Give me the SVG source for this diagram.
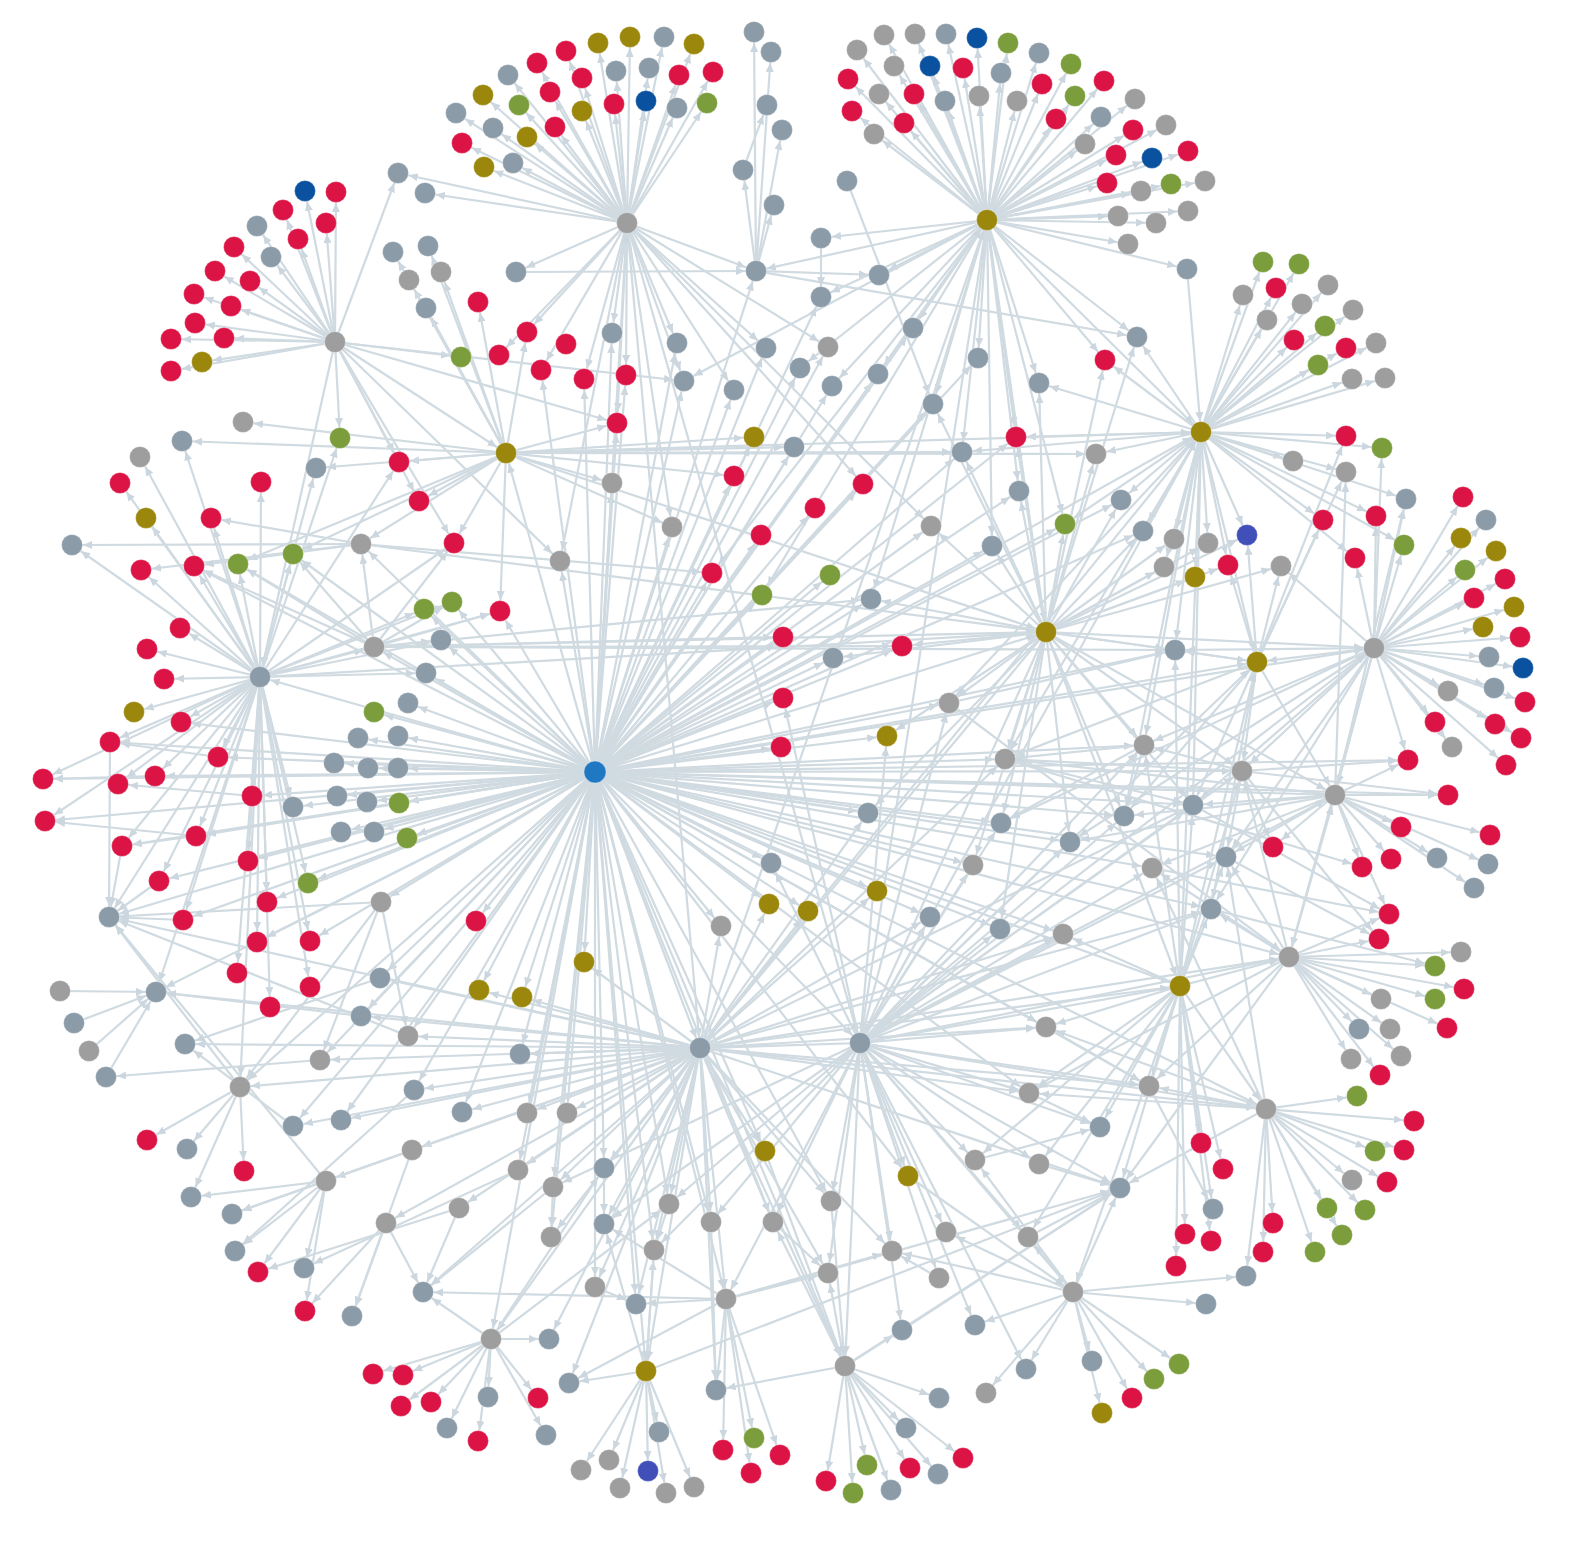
<svg xmlns="http://www.w3.org/2000/svg" width="1582" height="1544" viewBox="0 0 1582 1544">
<style>
.e path{stroke:#d0dae1;stroke-width:2.2;fill:none;marker-end:url(#a)}
.r{fill:#dc1446}.o{fill:#9b870c}.b{fill:#8b9ba8}.g{fill:#9e9e9e}.v{fill:#7b9d3b}.d{fill:#0a52a0}.p{fill:#4150b8}.c{fill:#1f78c1}
.n circle{stroke:#ffffff;stroke-opacity:0.35;stroke-width:1}
</style>
<defs>
<marker id="a" markerUnits="userSpaceOnUse" markerWidth="10" markerHeight="8" refX="20" refY="4" orient="auto"><path d="M0,0L9,4L0,8z" fill="#cbd6de"/></marker>
</defs>
<rect width="1582" height="1544" fill="#ffffff"/>
<g id="connectors" class="e">
<path d="M627 223L456 113"/><path d="M627 223L462 143"/><path d="M627 223L484 167"/><path d="M627 223L483 95"/><path d="M627 223L493 128"/><path d="M627 223L508 75"/><path d="M627 223L513 163"/><path d="M627 223L519 105"/><path d="M627 223L527 137"/><path d="M627 223L537 63"/><path d="M627 223L550 92"/><path d="M627 223L555 127"/><path d="M627 223L566 51"/><path d="M627 223L582 78"/><path d="M627 223L582 111"/><path d="M627 223L598 43"/><path d="M627 223L614 104"/><path d="M627 223L616 71"/><path d="M627 223L630 37"/><path d="M627 223L646 101"/><path d="M627 223L649 68"/><path d="M627 223L664 37"/><path d="M627 223L677 108"/><path d="M627 223L679 75"/><path d="M627 223L694 44"/><path d="M627 223L707 103"/><path d="M627 223L713 72"/><path d="M627 223L425 193"/><path d="M627 223L398 173"/><path d="M627 223L516 272"/><path d="M627 223L756 271"/><path d="M627 223L612 333"/><path d="M627 223L527 332"/><path d="M627 223L499 355"/><path d="M627 223L541 370"/><path d="M627 223L584 379"/><path d="M627 223L626 375"/><path d="M627 223L617 423"/><path d="M627 223L677 343"/><path d="M627 223L684 381"/><path d="M627 223L734 390"/><path d="M627 223L766 348"/><path d="M627 223L672 527"/><path d="M627 223L560 561"/><path d="M627 223L700 1048"/><path d="M627 223L860 1043"/><path d="M627 223L863 484"/><path d="M627 223L931 526"/><path d="M627 223L828 347"/>
<path d="M756 271L754 32"/><path d="M756 271L771 52"/><path d="M743 170L767 105"/><path d="M756 271L782 130"/><path d="M756 271L743 170"/><path d="M756 271L774 205"/><path d="M847 181L933 404"/><path d="M516 272L756 271"/><path d="M756 271L1137 337"/><path d="M821 238L821 297"/><path d="M756 271L879 275"/>
<path d="M987 220L857 50"/><path d="M987 220L884 35"/><path d="M987 220L915 34"/><path d="M987 220L946 34"/><path d="M987 220L977 38"/><path d="M987 220L1008 43"/><path d="M987 220L1039 53"/><path d="M987 220L1071 64"/><path d="M987 220L1104 81"/><path d="M987 220L1135 99"/><path d="M987 220L1166 125"/><path d="M987 220L1188 151"/><path d="M987 220L1205 181"/><path d="M987 220L1188 211"/><path d="M987 220L1156 223"/><path d="M987 220L1128 244"/><path d="M987 220L1118 216"/><path d="M987 220L1141 191"/><path d="M987 220L1171 184"/><path d="M987 220L1152 158"/><path d="M987 220L1116 155"/><path d="M987 220L1107 183"/><path d="M987 220L1133 130"/><path d="M987 220L1101 117"/><path d="M987 220L1085 144"/><path d="M987 220L1056 119"/><path d="M987 220L1075 96"/><path d="M987 220L1042 84"/><path d="M987 220L1017 101"/><path d="M987 220L1001 73"/><path d="M987 220L963 68"/><path d="M987 220L979 96"/><path d="M987 220L945 101"/><path d="M987 220L930 66"/><path d="M987 220L914 94"/><path d="M987 220L894 66"/><path d="M987 220L879 94"/><path d="M987 220L848 79"/><path d="M987 220L852 111"/><path d="M987 220L874 134"/><path d="M987 220L904 123"/><path d="M987 220L1187 269"/><path d="M987 220L1137 337"/><path d="M987 220L821 238"/><path d="M987 220L756 271"/><path d="M987 220L879 275"/><path d="M987 220L913 328"/><path d="M987 220L978 358"/><path d="M987 220L933 404"/><path d="M987 220L1016 437"/><path d="M987 220L962 452"/><path d="M987 220L1039 383"/><path d="M987 220L1046 632"/><path d="M987 220L992 546"/><path d="M987 220L1019 491"/><path d="M987 220L800 368"/><path d="M987 220L832 386"/><path d="M987 220L878 374"/><path d="M987 220L821 297"/><path d="M987 220L712 573"/><path d="M987 220L762 595"/><path d="M987 220L871 599"/><path d="M987 220L1201 432"/><path d="M987 220L860 1043"/><path d="M987 220L1065 524"/><path d="M987 220L684 381"/><path d="M987 220L1105 360"/>
<path d="M335 342L305 191"/><path d="M335 342L336 192"/><path d="M335 342L283 210"/><path d="M335 342L326 223"/><path d="M335 342L257 226"/><path d="M335 342L298 239"/><path d="M335 342L234 247"/><path d="M335 342L271 257"/><path d="M335 342L215 271"/><path d="M335 342L250 281"/><path d="M335 342L194 294"/><path d="M335 342L231 306"/><path d="M335 342L195 323"/><path d="M335 342L224 338"/><path d="M335 342L171 339"/><path d="M335 342L171 371"/><path d="M335 342L202 362"/><path d="M335 342L398 173"/><path d="M335 342L340 438"/><path d="M335 342L461 357"/><path d="M335 342L506 453"/><path d="M335 342L399 462"/><path d="M335 342L419 501"/><path d="M335 342L260 677"/><path d="M335 342L617 423"/><path d="M335 342L560 561"/><path d="M335 342L684 381"/><path d="M335 342L454 543"/>
<path d="M1201 432L1263 262"/><path d="M1201 432L1299 264"/><path d="M1201 432L1243 295"/><path d="M1201 432L1276 288"/><path d="M1201 432L1328 285"/><path d="M1201 432L1302 304"/><path d="M1201 432L1267 320"/><path d="M1201 432L1353 310"/><path d="M1201 432L1325 326"/><path d="M1201 432L1294 340"/><path d="M1201 432L1346 348"/><path d="M1201 432L1376 343"/><path d="M1201 432L1318 365"/><path d="M1201 432L1352 379"/><path d="M1201 432L1385 378"/><path d="M1201 432L1346 436"/><path d="M1201 432L1382 448"/><path d="M1201 432L1293 461"/><path d="M1201 432L1346 472"/><path d="M1201 432L1406 499"/><path d="M1201 432L1323 520"/><path d="M1201 432L1376 516"/><path d="M1201 432L1404 545"/><path d="M1201 432L1355 558"/><path d="M1201 432L1137 337"/><path d="M1201 432L1105 360"/><path d="M1201 432L1096 454"/><path d="M1201 432L1121 500"/><path d="M1201 432L1143 531"/><path d="M1201 432L1174 539"/><path d="M1201 432L1208 543"/><path d="M1201 432L1164 567"/><path d="M1201 432L1195 577"/><path d="M1201 432L1228 565"/><path d="M1201 432L1257 662"/><path d="M1201 432L1016 437"/><path d="M1201 432L1039 383"/><path d="M1201 432L962 452"/><path d="M1201 432L1180 986"/><path d="M1201 432L1193 805"/><path d="M1201 432L1124 816"/><path d="M1201 432L1175 650"/><path d="M1201 432L1144 745"/><path d="M1201 432L1065 524"/><path d="M1201 432L1247 535"/><path d="M1187 269L1201 432"/><path d="M1201 432L949 703"/><path d="M1201 432L1005 759"/>
<path d="M1374 648L1463 497"/><path d="M1374 648L1486 520"/><path d="M1374 648L1461 538"/><path d="M1374 648L1496 551"/><path d="M1374 648L1465 570"/><path d="M1374 648L1505 579"/><path d="M1374 648L1474 598"/><path d="M1374 648L1514 607"/><path d="M1374 648L1483 627"/><path d="M1374 648L1520 637"/><path d="M1374 648L1489 657"/><path d="M1374 648L1523 668"/><path d="M1374 648L1494 688"/><path d="M1374 648L1525 702"/><path d="M1374 648L1495 724"/><path d="M1374 648L1521 738"/><path d="M1374 648L1506 765"/><path d="M1374 648L1448 691"/><path d="M1374 648L1452 747"/><path d="M1374 648L1435 722"/><path d="M1374 648L1408 760"/><path d="M1374 648L1335 795"/><path d="M1374 648L1257 662"/><path d="M1374 648L1406 499"/><path d="M1374 648L1355 558"/><path d="M1374 648L1376 516"/><path d="M1374 648L1404 545"/><path d="M1374 648L1382 448"/><path d="M1374 648L1281 566"/><path d="M1374 648L1242 771"/><path d="M1374 648L1193 805"/><path d="M1374 648L1226 857"/><path d="M1374 648L1175 650"/><path d="M1374 648L1144 745"/><path d="M1374 648L1289 957"/><path d="M1374 648L1211 909"/><path d="M1374 648L1001 823"/><path d="M1374 648L1070 842"/>
<path d="M1257 662L1281 566"/><path d="M1257 662L1247 535"/><path d="M1257 662L1175 650"/><path d="M1257 662L1242 771"/><path d="M1257 662L1193 805"/><path d="M1257 662L1323 520"/><path d="M1257 662L1346 436"/><path d="M1257 662L1228 565"/><path d="M1257 662L1211 909"/><path d="M1257 662L1335 795"/><path d="M1257 662L1346 472"/><path d="M1257 662L1124 816"/><path d="M1257 662L1005 759"/>
<path d="M260 677L180 628"/><path d="M260 677L147 649"/><path d="M260 677L164 679"/><path d="M260 677L134 712"/><path d="M260 677L181 722"/><path d="M260 677L110 742"/><path d="M260 677L218 757"/><path d="M260 677L155 776"/><path d="M260 677L118 784"/><path d="M260 677L196 836"/><path d="M260 677L252 796"/><path d="M260 677L248 861"/><path d="M260 677L122 846"/><path d="M260 677L159 881"/><path d="M260 677L183 920"/><path d="M260 677L238 564"/><path d="M260 677L194 566"/><path d="M260 677L141 570"/><path d="M260 677L72 545"/><path d="M260 677L211 518"/><path d="M260 677L261 482"/><path d="M260 677L293 554"/><path d="M260 677L146 518"/><path d="M260 677L120 483"/><path d="M260 677L109 917"/><path d="M260 677L267 902"/><path d="M260 677L257 942"/><path d="M260 677L237 973"/><path d="M260 677L182 441"/><path d="M260 677L140 457"/><path d="M260 677L43 779"/><path d="M260 677L45 821"/><path d="M260 677L316 468"/><path d="M260 677L340 438"/><path d="M260 677L374 647"/><path d="M260 677L426 673"/><path d="M260 677L441 640"/><path d="M260 677L500 611"/><path d="M260 677L424 609"/><path d="M260 677L452 602"/><path d="M260 677L1046 632"/><path d="M260 677L240 1087"/><path d="M260 677L156 992"/><path d="M260 677L310 941"/><path d="M260 677L308 883"/><path d="M260 677L293 807"/><path d="M260 677L399 462"/><path d="M260 677L454 543"/><path d="M260 677L310 987"/><path d="M260 677L270 1007"/>
<path d="M110 742L109 917"/><path d="M122 846L109 917"/><path d="M159 881L109 917"/><path d="M183 920L109 917"/><path d="M381 902L109 917"/><path d="M60 991L156 992"/><path d="M74 1023L156 992"/><path d="M89 1051L156 992"/><path d="M106 1077L156 992"/><path d="M155 776L43 779"/><path d="M196 836L45 821"/><path d="M196 836L122 846"/><path d="M252 796L118 784"/><path d="M218 757L110 742"/>
<path d="M374 647L1046 632"/><path d="M374 647L902 646"/><path d="M374 647L783 637"/><path d="M374 647L452 602"/><path d="M374 647L500 611"/><path d="M374 647L238 564"/><path d="M374 647L194 566"/><path d="M374 647L293 554"/><path d="M374 647L361 544"/><path d="M374 647L454 543"/><path d="M374 647L441 640"/><path d="M374 647L1175 650"/><path d="M374 647L871 599"/>
<path d="M506 453L399 462"/><path d="M506 453L419 501"/><path d="M506 453L454 543"/><path d="M506 453L316 468"/><path d="M506 453L361 544"/><path d="M506 453L243 422"/><path d="M506 453L182 441"/><path d="M506 453L612 483"/><path d="M506 453L672 527"/><path d="M506 453L754 437"/><path d="M506 453L1096 454"/><path d="M506 453L962 452"/><path d="M506 453L794 447"/><path d="M506 453L734 476"/><path d="M506 453L293 554"/><path d="M506 453L238 564"/><path d="M506 453L500 611"/><path d="M506 453L617 423"/><path d="M506 453L527 332"/><path d="M506 453L478 302"/><path d="M506 453L409 280"/><path d="M506 453L441 272"/><path d="M506 453L426 308"/><path d="M506 453L393 252"/><path d="M506 453L428 246"/><path d="M506 453L1201 432"/><path d="M506 453L1046 632"/>
<path d="M361 544L141 570"/><path d="M361 544L194 566"/><path d="M361 544L72 545"/><path d="M361 544L211 518"/><path d="M361 544L1046 632"/><path d="M361 544L712 573"/>
<path d="M595 772L781 747"/><path d="M595 772L783 698"/><path d="M595 772L783 637"/><path d="M595 772L712 573"/><path d="M595 772L761 535"/><path d="M595 772L734 476"/><path d="M595 772L672 527"/><path d="M595 772L612 483"/><path d="M595 772L560 561"/><path d="M595 772L500 611"/><path d="M595 772L452 602"/><path d="M595 772L424 609"/><path d="M595 772L441 640"/><path d="M595 772L426 673"/><path d="M595 772L408 703"/><path d="M595 772L374 712"/><path d="M595 772L398 736"/><path d="M595 772L358 738"/><path d="M595 772L334 763"/><path d="M595 772L368 768"/><path d="M595 772L398 768"/><path d="M595 772L337 796"/><path d="M595 772L367 802"/><path d="M595 772L399 803"/><path d="M595 772L341 832"/><path d="M595 772L374 832"/><path d="M595 772L407 838"/><path d="M595 772L293 807"/><path d="M595 772L381 902"/><path d="M595 772L476 921"/><path d="M595 772L308 883"/><path d="M595 772L267 902"/><path d="M595 772L218 757"/><path d="M595 772L155 776"/><path d="M595 772L43 779"/><path d="M595 772L45 821"/><path d="M595 772L122 846"/><path d="M595 772L196 836"/><path d="M595 772L252 796"/><path d="M595 772L248 861"/><path d="M595 772L181 722"/><path d="M595 772L110 742"/><path d="M595 772L887 736"/><path d="M595 772L949 703"/><path d="M595 772L1005 759"/><path d="M595 772L868 813"/><path d="M595 772L771 863"/><path d="M595 772L769 904"/><path d="M595 772L808 911"/><path d="M595 772L877 891"/><path d="M595 772L721 926"/><path d="M595 772L584 962"/><path d="M595 772L479 990"/><path d="M595 772L522 997"/><path d="M595 772L520 1054"/><path d="M595 772L700 1048"/><path d="M595 772L860 1043"/><path d="M595 772L1046 632"/><path d="M595 772L902 646"/><path d="M595 772L833 658"/><path d="M595 772L871 599"/><path d="M595 772L830 575"/><path d="M595 772L762 595"/><path d="M595 772L1144 745"/><path d="M595 772L1242 771"/><path d="M595 772L1335 795"/><path d="M595 772L1193 805"/><path d="M595 772L1124 816"/><path d="M595 772L1001 823"/><path d="M595 772L973 865"/><path d="M595 772L930 917"/><path d="M595 772L1000 929"/><path d="M595 772L1063 934"/><path d="M595 772L1070 842"/><path d="M595 772L408 1036"/><path d="M595 772L361 1016"/><path d="M595 772L380 978"/><path d="M595 772L617 423"/><path d="M595 772L626 375"/><path d="M595 772L584 379"/><path d="M595 772L541 370"/><path d="M595 772L612 333"/><path d="M595 772L677 343"/><path d="M595 772L684 381"/><path d="M595 772L734 390"/><path d="M595 772L766 348"/><path d="M595 772L756 271"/><path d="M595 772L821 297"/><path d="M595 772L828 347"/><path d="M595 772L800 368"/><path d="M595 772L832 386"/><path d="M595 772L878 374"/><path d="M595 772L913 328"/><path d="M595 772L933 404"/><path d="M595 772L978 358"/><path d="M595 772L962 452"/><path d="M595 772L1016 437"/><path d="M595 772L794 447"/><path d="M595 772L754 437"/><path d="M595 772L863 484"/><path d="M595 772L815 508"/><path d="M595 772L931 526"/><path d="M595 772L992 546"/><path d="M595 772L1019 491"/><path d="M595 772L1065 524"/><path d="M595 772L1121 500"/><path d="M595 772L1143 531"/><path d="M595 772L1175 650"/><path d="M595 772L1257 662"/><path d="M595 772L1374 648"/><path d="M595 772L1201 432"/><path d="M595 772L987 220"/><path d="M595 772L627 223"/><path d="M595 772L506 453"/><path d="M595 772L260 677"/><path d="M595 772L374 647"/><path d="M595 772L361 544"/><path d="M595 772L293 554"/><path d="M595 772L238 564"/><path d="M595 772L194 566"/><path d="M595 772L1211 909"/><path d="M595 772L1152 868"/><path d="M595 772L1226 857"/><path d="M595 772L1180 986"/><path d="M595 772L1289 957"/><path d="M595 772L1266 1109"/><path d="M595 772L1149 1086"/><path d="M595 772L1046 1027"/><path d="M595 772L1029 1093"/><path d="M595 772L567 1113"/><path d="M595 772L527 1113"/><path d="M595 772L604 1168"/><path d="M595 772L669 1204"/><path d="M595 772L711 1222"/><path d="M595 772L654 1250"/><path d="M595 772L595 1287"/><path d="M595 772L636 1304"/><path d="M595 772L551 1237"/><path d="M595 772L553 1187"/><path d="M595 772L518 1170"/><path d="M595 772L462 1112"/><path d="M595 772L414 1090"/><path d="M595 772L341 1120"/><path d="M595 772L293 1126"/><path d="M595 772L320 1060"/><path d="M595 772L240 1087"/><path d="M595 772L109 917"/><path d="M595 772L156 992"/><path d="M595 772L726 1299"/><path d="M595 772L845 1366"/><path d="M595 772L646 1371"/><path d="M595 772L491 1339"/><path d="M595 772L765 1151"/><path d="M595 772L831 1201"/><path d="M595 772L773 1222"/><path d="M595 772L908 1176"/><path d="M595 772L183 920"/><path d="M595 772L159 881"/><path d="M595 772L257 942"/><path d="M595 772L310 941"/><path d="M595 772L1448 795"/><path d="M595 772L1408 760"/>
<path d="M1046 632L1175 650"/><path d="M1046 632L1257 662"/><path d="M1046 632L1374 648"/><path d="M1046 632L1144 745"/><path d="M1046 632L1242 771"/><path d="M1046 632L1005 759"/><path d="M1046 632L949 703"/><path d="M1046 632L1019 491"/><path d="M1046 632L1065 524"/><path d="M1046 632L1121 500"/><path d="M1046 632L992 546"/><path d="M1046 632L931 526"/><path d="M1046 632L871 599"/><path d="M1046 632L902 646"/><path d="M1046 632L833 658"/><path d="M1046 632L1208 543"/><path d="M1046 632L1164 567"/><path d="M1046 632L1195 577"/><path d="M1046 632L1228 565"/><path d="M1046 632L1143 531"/><path d="M1046 632L1174 539"/><path d="M1046 632L1096 454"/><path d="M1046 632L1039 383"/><path d="M1046 632L962 452"/><path d="M1046 632L1016 437"/><path d="M1046 632L700 1048"/><path d="M1046 632L860 1043"/><path d="M1046 632L1180 986"/><path d="M1046 632L1335 795"/><path d="M1046 632L1193 805"/><path d="M1046 632L1124 816"/><path d="M1046 632L1070 842"/><path d="M1046 632L1001 823"/><path d="M1046 632L973 865"/><path d="M1046 632L868 813"/><path d="M1046 632L887 736"/><path d="M1046 632L1000 929"/><path d="M1046 632L1281 566"/><path d="M1046 632L1247 535"/><path d="M1046 632L1137 337"/><path d="M1046 632L1105 360"/><path d="M1046 632L933 404"/>
<path d="M700 1048L520 1054"/><path d="M700 1048L527 1113"/><path d="M700 1048L567 1113"/><path d="M700 1048L604 1168"/><path d="M700 1048L518 1170"/><path d="M700 1048L553 1187"/><path d="M700 1048L551 1237"/><path d="M700 1048L604 1224"/><path d="M700 1048L595 1287"/><path d="M700 1048L636 1304"/><path d="M700 1048L669 1204"/><path d="M700 1048L654 1250"/><path d="M700 1048L711 1222"/><path d="M700 1048L726 1299"/><path d="M700 1048L765 1151"/><path d="M700 1048L773 1222"/><path d="M700 1048L831 1201"/><path d="M700 1048L828 1273"/><path d="M700 1048L892 1251"/><path d="M700 1048L462 1112"/><path d="M700 1048L414 1090"/><path d="M700 1048L408 1036"/><path d="M700 1048L320 1060"/><path d="M700 1048L240 1087"/><path d="M700 1048L380 978"/><path d="M700 1048L361 1016"/><path d="M700 1048L156 992"/><path d="M700 1048L109 917"/><path d="M700 1048L423 1292"/><path d="M700 1048L646 1371"/><path d="M700 1048L491 1339"/><path d="M700 1048L845 1366"/><path d="M700 1048L1120 1188"/><path d="M700 1048L1149 1086"/><path d="M700 1048L1046 1027"/><path d="M700 1048L1180 986"/><path d="M700 1048L1289 957"/><path d="M700 1048L1211 909"/><path d="M700 1048L1063 934"/><path d="M700 1048L1005 759"/><path d="M700 1048L1193 805"/><path d="M700 1048L1201 432"/><path d="M700 1048L987 220"/><path d="M700 1048L584 962"/><path d="M700 1048L522 997"/><path d="M700 1048L479 990"/><path d="M700 1048L721 926"/><path d="M700 1048L769 904"/><path d="M700 1048L808 911"/><path d="M700 1048L877 891"/><path d="M700 1048L868 813"/><path d="M700 1048L930 917"/><path d="M700 1048L341 1120"/><path d="M700 1048L293 1126"/><path d="M700 1048L412 1150"/><path d="M700 1048L326 1181"/><path d="M700 1048L386 1223"/><path d="M700 1048L459 1208"/><path d="M700 1048L569 1383"/><path d="M700 1048L549 1339"/><path d="M700 1048L716 1390"/><path d="M700 1048L185 1044"/><path d="M700 1048L1266 1109"/><path d="M700 1048L1029 1093"/>
<path d="M860 1043L975 1160"/><path d="M860 1043L1039 1164"/><path d="M860 1043L1029 1093"/><path d="M860 1043L1046 1027"/><path d="M860 1043L1120 1188"/><path d="M860 1043L1100 1127"/><path d="M860 1043L1149 1086"/><path d="M860 1043L946 1232"/><path d="M860 1043L939 1278"/><path d="M860 1043L892 1251"/><path d="M860 1043L908 1176"/><path d="M860 1043L828 1273"/><path d="M860 1043L831 1201"/><path d="M860 1043L773 1222"/><path d="M860 1043L1028 1237"/><path d="M860 1043L1073 1292"/><path d="M860 1043L902 1330"/><path d="M860 1043L975 1325"/><path d="M860 1043L845 1366"/><path d="M860 1043L711 1222"/><path d="M860 1043L669 1204"/><path d="M860 1043L1180 986"/><path d="M860 1043L1289 957"/><path d="M860 1043L1211 909"/><path d="M860 1043L1063 934"/><path d="M860 1043L1000 929"/><path d="M860 1043L930 917"/><path d="M860 1043L973 865"/><path d="M860 1043L1001 823"/><path d="M860 1043L1070 842"/><path d="M860 1043L1152 868"/><path d="M860 1043L1124 816"/><path d="M860 1043L1193 805"/><path d="M860 1043L1242 771"/><path d="M860 1043L1226 857"/><path d="M860 1043L1266 1109"/><path d="M860 1043L1335 795"/><path d="M860 1043L1374 648"/><path d="M860 1043L1201 432"/><path d="M860 1043L1026 1369"/><path d="M860 1043L726 1299"/><path d="M860 1043L654 1250"/><path d="M860 1043L604 1224"/><path d="M860 1043L1257 662"/><path d="M860 1043L1144 745"/><path d="M860 1043L949 703"/><path d="M860 1043L887 736"/><path d="M860 1043L783 698"/><path d="M860 1043L771 863"/><path d="M860 1043L553 1187"/><path d="M860 1043L520 1054"/>
<path d="M1180 986L1149 1086"/><path d="M1180 986L1201 1143"/><path d="M1180 986L1223 1169"/><path d="M1180 986L1213 1209"/><path d="M1180 986L1185 1234"/><path d="M1180 986L1211 1241"/><path d="M1180 986L1176 1266"/><path d="M1180 986L1120 1188"/><path d="M1180 986L1100 1127"/><path d="M1180 986L1046 1027"/><path d="M1180 986L1029 1093"/><path d="M1180 986L1266 1109"/><path d="M1180 986L1289 957"/><path d="M1180 986L1211 909"/><path d="M1180 986L1226 857"/><path d="M1180 986L1063 934"/><path d="M1180 986L1144 745"/><path d="M1180 986L1175 650"/><path d="M1180 986L1193 805"/><path d="M1180 986L1242 771"/><path d="M1180 986L1257 662"/><path d="M1180 986L1073 1292"/><path d="M1180 986L975 1160"/><path d="M1180 986L1039 1164"/><path d="M1180 986L1028 1237"/>
<path d="M1289 957L1435 966"/><path d="M1289 957L1461 952"/><path d="M1289 957L1435 999"/><path d="M1289 957L1464 989"/><path d="M1289 957L1381 999"/><path d="M1289 957L1390 1029"/><path d="M1289 957L1359 1029"/><path d="M1289 957L1447 1028"/><path d="M1289 957L1389 914"/><path d="M1289 957L1379 939"/><path d="M1289 957L1401 1056"/><path d="M1289 957L1351 1059"/><path d="M1289 957L1380 1075"/><path d="M1289 957L1211 909"/><path d="M1289 957L1226 857"/><path d="M1289 957L1152 868"/><path d="M1289 957L1242 771"/><path d="M1289 957L1335 795"/><path d="M1289 957L1029 1093"/><path d="M1289 957L1149 1086"/><path d="M1289 957L1120 1188"/>
<path d="M1266 1109L1315 1252"/><path d="M1266 1109L1342 1235"/><path d="M1266 1109L1327 1208"/><path d="M1266 1109L1365 1210"/><path d="M1266 1109L1352 1180"/><path d="M1266 1109L1387 1182"/><path d="M1266 1109L1375 1151"/><path d="M1266 1109L1404 1150"/><path d="M1266 1109L1414 1121"/><path d="M1266 1109L1357 1096"/><path d="M1266 1109L1263 1252"/><path d="M1266 1109L1273 1223"/><path d="M1266 1109L1246 1276"/><path d="M1266 1109L1149 1086"/><path d="M1266 1109L1029 1093"/><path d="M1266 1109L1120 1188"/><path d="M1266 1109L1226 857"/><path d="M1266 1109L1152 868"/><path d="M1266 1109L1046 1027"/>
<path d="M1335 795L1401 827"/><path d="M1335 795L1391 859"/><path d="M1335 795L1362 867"/><path d="M1335 795L1437 858"/><path d="M1335 795L1488 864"/><path d="M1335 795L1474 888"/><path d="M1335 795L1490 835"/><path d="M1335 795L1448 795"/><path d="M1335 795L1408 760"/><path d="M1335 795L1273 847"/><path d="M1335 795L1389 914"/><path d="M1335 795L1226 857"/><path d="M1335 795L1193 805"/><path d="M1335 795L1152 868"/><path d="M1335 795L1124 816"/><path d="M1335 795L1406 499"/><path d="M1335 795L1346 472"/><path d="M1335 795L1005 759"/><path d="M1335 795L1070 842"/>
<path d="M1242 771L1408 760"/><path d="M1242 771L1448 795"/><path d="M1242 771L1273 847"/><path d="M1242 771L1226 857"/><path d="M1242 771L1144 745"/><path d="M1242 771L1379 939"/><path d="M1242 771L1005 759"/><path d="M1144 745L1005 759"/><path d="M1144 745L1001 823"/><path d="M1144 745L1124 816"/><path d="M1005 759L1193 805"/><path d="M1005 759L1362 867"/><path d="M949 703L1175 650"/><path d="M949 703L1289 957"/><path d="M1193 805L1389 914"/><path d="M1152 868L1389 914"/><path d="M1226 857L1379 939"/><path d="M1211 909L1435 966"/>
<path d="M1073 1292L1092 1361"/><path d="M1073 1292L1102 1413"/><path d="M1073 1292L1132 1398"/><path d="M1073 1292L1154 1379"/><path d="M1073 1292L1179 1364"/><path d="M1073 1292L1026 1369"/><path d="M1073 1292L986 1393"/><path d="M1073 1292L1028 1237"/><path d="M1073 1292L1120 1188"/><path d="M1073 1292L975 1325"/><path d="M1073 1292L892 1251"/><path d="M1073 1292L1206 1304"/><path d="M1073 1292L1246 1276"/><path d="M1073 1292L946 1232"/><path d="M1073 1292L975 1160"/>
<path d="M845 1366L826 1481"/><path d="M845 1366L853 1493"/><path d="M845 1366L867 1465"/><path d="M845 1366L891 1490"/><path d="M845 1366L910 1468"/><path d="M845 1366L938 1474"/><path d="M845 1366L963 1458"/><path d="M845 1366L906 1428"/><path d="M845 1366L939 1398"/><path d="M845 1366L902 1330"/><path d="M845 1366L1120 1188"/><path d="M845 1366L716 1390"/><path d="M845 1366L828 1273"/><path d="M845 1366L773 1222"/>
<path d="M726 1299L716 1390"/><path d="M726 1299L723 1450"/><path d="M726 1299L751 1473"/><path d="M726 1299L754 1438"/><path d="M726 1299L780 1455"/><path d="M726 1299L636 1304"/><path d="M726 1299L569 1383"/><path d="M726 1299L1120 1188"/><path d="M726 1299L828 1273"/><path d="M726 1299L892 1251"/><path d="M726 1299L604 1224"/><path d="M726 1299L423 1292"/>
<path d="M646 1371L581 1470"/><path d="M646 1371L609 1460"/><path d="M646 1371L620 1488"/><path d="M646 1371L648 1471"/><path d="M646 1371L659 1432"/><path d="M646 1371L666 1493"/><path d="M646 1371L694 1487"/><path d="M646 1371L569 1383"/><path d="M646 1371L1120 1188"/><path d="M646 1371L654 1250"/><path d="M646 1371L604 1224"/>
<path d="M491 1339L373 1374"/><path d="M491 1339L403 1375"/><path d="M491 1339L401 1406"/><path d="M491 1339L431 1402"/><path d="M491 1339L447 1428"/><path d="M491 1339L478 1441"/><path d="M491 1339L488 1397"/><path d="M491 1339L538 1398"/><path d="M491 1339L549 1339"/><path d="M491 1339L546 1435"/><path d="M491 1339L423 1292"/><path d="M491 1339L669 1204"/><path d="M491 1339L604 1168"/>
<path d="M326 1181L304 1268"/><path d="M326 1181L258 1272"/><path d="M326 1181L235 1251"/><path d="M326 1181L232 1214"/><path d="M326 1181L191 1197"/><path d="M326 1181L305 1311"/><path d="M326 1181L109 917"/>
<path d="M240 1087L147 1140"/><path d="M240 1087L187 1149"/><path d="M240 1087L244 1171"/><path d="M240 1087L191 1197"/><path d="M240 1087L109 917"/>
<path d="M386 1223L352 1316"/><path d="M386 1223L305 1311"/><path d="M386 1223L423 1292"/><path d="M412 1150L352 1316"/><path d="M412 1150L232 1214"/><path d="M459 1208L423 1292"/><path d="M459 1208L258 1272"/><path d="M553 1187L423 1292"/><path d="M518 1170L304 1268"/><path d="M414 1090L235 1251"/><path d="M381 902L240 1087"/><path d="M381 902L320 1060"/><path d="M381 902L408 1036"/><path d="M380 978L185 1044"/><path d="M361 1016L156 992"/><path d="M320 1060L106 1077"/><path d="M293 1126L185 1044"/><path d="M408 1036L109 917"/><path d="M604 1168L604 1224"/><path d="M553 1187L551 1237"/><path d="M595 1287L636 1304"/><path d="M669 1204L654 1250"/><path d="M773 1222L828 1273"/><path d="M939 1278L892 1251"/><path d="M1028 1237L1120 1188"/><path d="M902 1330L1120 1188"/><path d="M975 1160L1100 1127"/><path d="M1039 1164L1120 1188"/><path d="M1029 1093L1100 1127"/><path d="M1149 1086L1213 1209"/><path d="M1046 1027L1149 1086"/><path d="M908 1176L1073 1292"/><path d="M765 1151L845 1366"/><path d="M831 1201L845 1366"/><path d="M711 1222L716 1390"/><path d="M654 1250L646 1371"/>
</g>
<g id="nodes" class="n">
<g id="n0" class="c"><circle cx="595" cy="772" r="11"/></g>
<g id="n1" class="b"><circle cx="456" cy="113" r="10.5"/></g>
<g id="n2" class="r"><circle cx="462" cy="143" r="10.5"/></g>
<g id="n3" class="o"><circle cx="484" cy="167" r="10.5"/></g>
<g id="n4" class="o"><circle cx="483" cy="95" r="10.5"/></g>
<g id="n5" class="b"><circle cx="493" cy="128" r="10.5"/></g>
<g id="n6" class="b"><circle cx="508" cy="75" r="10.5"/></g>
<g id="n7" class="b"><circle cx="513" cy="163" r="10.5"/></g>
<g id="n8" class="v"><circle cx="519" cy="105" r="10.5"/></g>
<g id="n9" class="o"><circle cx="527" cy="137" r="10.5"/></g>
<g id="n10" class="r"><circle cx="537" cy="63" r="10.5"/></g>
<g id="n11" class="r"><circle cx="550" cy="92" r="10.5"/></g>
<g id="n12" class="r"><circle cx="555" cy="127" r="10.5"/></g>
<g id="n13" class="r"><circle cx="566" cy="51" r="10.5"/></g>
<g id="n14" class="r"><circle cx="582" cy="78" r="10.5"/></g>
<g id="n15" class="o"><circle cx="582" cy="111" r="10.5"/></g>
<g id="n16" class="o"><circle cx="598" cy="43" r="10.5"/></g>
<g id="n17" class="r"><circle cx="614" cy="104" r="10.5"/></g>
<g id="n18" class="b"><circle cx="616" cy="71" r="10.5"/></g>
<g id="n19" class="o"><circle cx="630" cy="37" r="10.5"/></g>
<g id="n20" class="d"><circle cx="646" cy="101" r="10.5"/></g>
<g id="n21" class="b"><circle cx="649" cy="68" r="10.5"/></g>
<g id="n22" class="b"><circle cx="664" cy="37" r="10.5"/></g>
<g id="n23" class="b"><circle cx="677" cy="108" r="10.5"/></g>
<g id="n24" class="r"><circle cx="679" cy="75" r="10.5"/></g>
<g id="n25" class="o"><circle cx="694" cy="44" r="10.5"/></g>
<g id="n26" class="v"><circle cx="707" cy="103" r="10.5"/></g>
<g id="n27" class="r"><circle cx="713" cy="72" r="10.5"/></g>
<g id="n28" class="g"><circle cx="627" cy="223" r="10.5"/></g>
<g id="n29" class="b"><circle cx="754" cy="32" r="10.5"/></g>
<g id="n30" class="b"><circle cx="771" cy="52" r="10.5"/></g>
<g id="n31" class="b"><circle cx="767" cy="105" r="10.5"/></g>
<g id="n32" class="b"><circle cx="782" cy="130" r="10.5"/></g>
<g id="n33" class="b"><circle cx="743" cy="170" r="10.5"/></g>
<g id="n34" class="b"><circle cx="774" cy="205" r="10.5"/></g>
<g id="n35" class="b"><circle cx="847" cy="181" r="10.5"/></g>
<g id="n36" class="g"><circle cx="857" cy="50" r="10.5"/></g>
<g id="n37" class="g"><circle cx="884" cy="35" r="10.5"/></g>
<g id="n38" class="g"><circle cx="915" cy="34" r="10.5"/></g>
<g id="n39" class="b"><circle cx="946" cy="34" r="10.5"/></g>
<g id="n40" class="d"><circle cx="977" cy="38" r="10.5"/></g>
<g id="n41" class="v"><circle cx="1008" cy="43" r="10.5"/></g>
<g id="n42" class="b"><circle cx="1039" cy="53" r="10.5"/></g>
<g id="n43" class="v"><circle cx="1071" cy="64" r="10.5"/></g>
<g id="n44" class="r"><circle cx="1104" cy="81" r="10.5"/></g>
<g id="n45" class="g"><circle cx="1135" cy="99" r="10.5"/></g>
<g id="n46" class="g"><circle cx="1166" cy="125" r="10.5"/></g>
<g id="n47" class="r"><circle cx="1188" cy="151" r="10.5"/></g>
<g id="n48" class="g"><circle cx="1205" cy="181" r="10.5"/></g>
<g id="n49" class="g"><circle cx="1188" cy="211" r="10.5"/></g>
<g id="n50" class="g"><circle cx="1156" cy="223" r="10.5"/></g>
<g id="n51" class="g"><circle cx="1128" cy="244" r="10.5"/></g>
<g id="n52" class="g"><circle cx="1118" cy="216" r="10.5"/></g>
<g id="n53" class="g"><circle cx="1141" cy="191" r="10.5"/></g>
<g id="n54" class="v"><circle cx="1171" cy="184" r="10.5"/></g>
<g id="n55" class="d"><circle cx="1152" cy="158" r="10.5"/></g>
<g id="n56" class="r"><circle cx="1116" cy="155" r="10.5"/></g>
<g id="n57" class="r"><circle cx="1107" cy="183" r="10.5"/></g>
<g id="n58" class="r"><circle cx="1133" cy="130" r="10.5"/></g>
<g id="n59" class="b"><circle cx="1101" cy="117" r="10.5"/></g>
<g id="n60" class="g"><circle cx="1085" cy="144" r="10.5"/></g>
<g id="n61" class="r"><circle cx="1056" cy="119" r="10.5"/></g>
<g id="n62" class="v"><circle cx="1075" cy="96" r="10.5"/></g>
<g id="n63" class="r"><circle cx="1042" cy="84" r="10.5"/></g>
<g id="n64" class="g"><circle cx="1017" cy="101" r="10.5"/></g>
<g id="n65" class="b"><circle cx="1001" cy="73" r="10.5"/></g>
<g id="n66" class="r"><circle cx="963" cy="68" r="10.5"/></g>
<g id="n67" class="g"><circle cx="979" cy="96" r="10.5"/></g>
<g id="n68" class="b"><circle cx="945" cy="101" r="10.5"/></g>
<g id="n69" class="d"><circle cx="930" cy="66" r="10.5"/></g>
<g id="n70" class="r"><circle cx="914" cy="94" r="10.5"/></g>
<g id="n71" class="g"><circle cx="894" cy="66" r="10.5"/></g>
<g id="n72" class="g"><circle cx="879" cy="94" r="10.5"/></g>
<g id="n73" class="r"><circle cx="848" cy="79" r="10.5"/></g>
<g id="n74" class="r"><circle cx="852" cy="111" r="10.5"/></g>
<g id="n75" class="g"><circle cx="874" cy="134" r="10.5"/></g>
<g id="n76" class="r"><circle cx="904" cy="123" r="10.5"/></g>
<g id="n77" class="o"><circle cx="987" cy="220" r="10.5"/></g>
<g id="n78" class="b"><circle cx="1187" cy="269" r="10.5"/></g>
<g id="n79" class="d"><circle cx="305" cy="191" r="10.5"/></g>
<g id="n80" class="r"><circle cx="336" cy="192" r="10.5"/></g>
<g id="n81" class="r"><circle cx="283" cy="210" r="10.5"/></g>
<g id="n82" class="r"><circle cx="326" cy="223" r="10.5"/></g>
<g id="n83" class="b"><circle cx="257" cy="226" r="10.5"/></g>
<g id="n84" class="r"><circle cx="298" cy="239" r="10.5"/></g>
<g id="n85" class="r"><circle cx="234" cy="247" r="10.5"/></g>
<g id="n86" class="b"><circle cx="271" cy="257" r="10.5"/></g>
<g id="n87" class="r"><circle cx="215" cy="271" r="10.5"/></g>
<g id="n88" class="r"><circle cx="250" cy="281" r="10.5"/></g>
<g id="n89" class="r"><circle cx="194" cy="294" r="10.5"/></g>
<g id="n90" class="r"><circle cx="231" cy="306" r="10.5"/></g>
<g id="n91" class="r"><circle cx="195" cy="323" r="10.5"/></g>
<g id="n92" class="r"><circle cx="224" cy="338" r="10.5"/></g>
<g id="n93" class="r"><circle cx="171" cy="339" r="10.5"/></g>
<g id="n94" class="r"><circle cx="171" cy="371" r="10.5"/></g>
<g id="n95" class="o"><circle cx="202" cy="362" r="10.5"/></g>
<g id="n96" class="g"><circle cx="335" cy="342" r="10.5"/></g>
<g id="n97" class="b"><circle cx="398" cy="173" r="10.5"/></g>
<g id="n98" class="b"><circle cx="425" cy="193" r="10.5"/></g>
<g id="n99" class="b"><circle cx="393" cy="252" r="10.5"/></g>
<g id="n100" class="b"><circle cx="428" cy="246" r="10.5"/></g>
<g id="n101" class="g"><circle cx="409" cy="280" r="10.5"/></g>
<g id="n102" class="g"><circle cx="441" cy="272" r="10.5"/></g>
<g id="n103" class="b"><circle cx="426" cy="308" r="10.5"/></g>
<g id="n104" class="v"><circle cx="461" cy="357" r="10.5"/></g>
<g id="n105" class="v"><circle cx="340" cy="438" r="10.5"/></g>
<g id="n106" class="r"><circle cx="478" cy="302" r="10.5"/></g>
<g id="n107" class="b"><circle cx="516" cy="272" r="10.5"/></g>
<g id="n108" class="r"><circle cx="527" cy="332" r="10.5"/></g>
<g id="n109" class="r"><circle cx="499" cy="355" r="10.5"/></g>
<g id="n110" class="r"><circle cx="541" cy="370" r="10.5"/></g>
<g id="n111" class="r"><circle cx="566" cy="344" r="10.5"/></g>
<g id="n112" class="r"><circle cx="584" cy="379" r="10.5"/></g>
<g id="n113" class="b"><circle cx="612" cy="333" r="10.5"/></g>
<g id="n114" class="r"><circle cx="626" cy="375" r="10.5"/></g>
<g id="n115" class="r"><circle cx="617" cy="423" r="10.5"/></g>
<g id="n116" class="b"><circle cx="677" cy="343" r="10.5"/></g>
<g id="n117" class="b"><circle cx="684" cy="381" r="10.5"/></g>
<g id="n118" class="b"><circle cx="734" cy="390" r="10.5"/></g>
<g id="n119" class="b"><circle cx="766" cy="348" r="10.5"/></g>
<g id="n120" class="b"><circle cx="756" cy="271" r="10.5"/></g>
<g id="n121" class="b"><circle cx="821" cy="238" r="10.5"/></g>
<g id="n122" class="b"><circle cx="821" cy="297" r="10.5"/></g>
<g id="n123" class="g"><circle cx="828" cy="347" r="10.5"/></g>
<g id="n124" class="b"><circle cx="800" cy="368" r="10.5"/></g>
<g id="n125" class="b"><circle cx="832" cy="386" r="10.5"/></g>
<g id="n126" class="b"><circle cx="878" cy="374" r="10.5"/></g>
<g id="n127" class="b"><circle cx="879" cy="275" r="10.5"/></g>
<g id="n128" class="b"><circle cx="913" cy="328" r="10.5"/></g>
<g id="n129" class="b"><circle cx="978" cy="358" r="10.5"/></g>
<g id="n130" class="b"><circle cx="933" cy="404" r="10.5"/></g>
<g id="n131" class="b"><circle cx="1039" cy="383" r="10.5"/></g>
<g id="n132" class="b"><circle cx="1137" cy="337" r="10.5"/></g>
<g id="n133" class="r"><circle cx="1105" cy="360" r="10.5"/></g>
<g id="n134" class="r"><circle cx="1016" cy="437" r="10.5"/></g>
<g id="n135" class="b"><circle cx="962" cy="452" r="10.5"/></g>
<g id="n136" class="g"><circle cx="1096" cy="454" r="10.5"/></g>
<g id="n137" class="b"><circle cx="794" cy="447" r="10.5"/></g>
<g id="n138" class="o"><circle cx="754" cy="437" r="10.5"/></g>
<g id="n139" class="r"><circle cx="734" cy="476" r="10.5"/></g>
<g id="n140" class="r"><circle cx="863" cy="484" r="10.5"/></g>
<g id="n141" class="r"><circle cx="815" cy="508" r="10.5"/></g>
<g id="n142" class="r"><circle cx="761" cy="535" r="10.5"/></g>
<g id="n143" class="g"><circle cx="672" cy="527" r="10.5"/></g>
<g id="n144" class="g"><circle cx="612" cy="483" r="10.5"/></g>
<g id="n145" class="g"><circle cx="560" cy="561" r="10.5"/></g>
<g id="n146" class="o"><circle cx="506" cy="453" r="10.5"/></g>
<g id="n147" class="r"><circle cx="399" cy="462" r="10.5"/></g>
<g id="n148" class="r"><circle cx="419" cy="501" r="10.5"/></g>
<g id="n149" class="r"><circle cx="454" cy="543" r="10.5"/></g>
<g id="n150" class="r"><circle cx="500" cy="611" r="10.5"/></g>
<g id="n151" class="v"><circle cx="452" cy="602" r="10.5"/></g>
<g id="n152" class="v"><circle cx="424" cy="609" r="10.5"/></g>
<g id="n153" class="b"><circle cx="441" cy="640" r="10.5"/></g>
<g id="n154" class="b"><circle cx="426" cy="673" r="10.5"/></g>
<g id="n155" class="g"><circle cx="374" cy="647" r="10.5"/></g>
<g id="n156" class="g"><circle cx="361" cy="544" r="10.5"/></g>
<g id="n157" class="v"><circle cx="293" cy="554" r="10.5"/></g>
<g id="n158" class="b"><circle cx="316" cy="468" r="10.5"/></g>
<g id="n159" class="r"><circle cx="261" cy="482" r="10.5"/></g>
<g id="n160" class="g"><circle cx="243" cy="422" r="10.5"/></g>
<g id="n161" class="b"><circle cx="182" cy="441" r="10.5"/></g>
<g id="n162" class="g"><circle cx="140" cy="457" r="10.5"/></g>
<g id="n163" class="r"><circle cx="120" cy="483" r="10.5"/></g>
<g id="n164" class="o"><circle cx="146" cy="518" r="10.5"/></g>
<g id="n165" class="r"><circle cx="211" cy="518" r="10.5"/></g>
<g id="n166" class="b"><circle cx="72" cy="545" r="10.5"/></g>
<g id="n167" class="r"><circle cx="141" cy="570" r="10.5"/></g>
<g id="n168" class="r"><circle cx="194" cy="566" r="10.5"/></g>
<g id="n169" class="v"><circle cx="238" cy="564" r="10.5"/></g>
<g id="n170" class="r"><circle cx="180" cy="628" r="10.5"/></g>
<g id="n171" class="r"><circle cx="147" cy="649" r="10.5"/></g>
<g id="n172" class="r"><circle cx="164" cy="679" r="10.5"/></g>
<g id="n173" class="b"><circle cx="260" cy="677" r="10.5"/></g>
<g id="n174" class="o"><circle cx="134" cy="712" r="10.5"/></g>
<g id="n175" class="r"><circle cx="181" cy="722" r="10.5"/></g>
<g id="n176" class="r"><circle cx="110" cy="742" r="10.5"/></g>
<g id="n177" class="r"><circle cx="218" cy="757" r="10.5"/></g>
<g id="n178" class="r"><circle cx="43" cy="779" r="10.5"/></g>
<g id="n179" class="r"><circle cx="118" cy="784" r="10.5"/></g>
<g id="n180" class="r"><circle cx="155" cy="776" r="10.5"/></g>
<g id="n181" class="r"><circle cx="45" cy="821" r="10.5"/></g>
<g id="n182" class="r"><circle cx="122" cy="846" r="10.5"/></g>
<g id="n183" class="r"><circle cx="196" cy="836" r="10.5"/></g>
<g id="n184" class="r"><circle cx="252" cy="796" r="10.5"/></g>
<g id="n185" class="r"><circle cx="248" cy="861" r="10.5"/></g>
<g id="n186" class="r"><circle cx="159" cy="881" r="10.5"/></g>
<g id="n187" class="b"><circle cx="109" cy="917" r="10.5"/></g>
<g id="n188" class="r"><circle cx="183" cy="920" r="10.5"/></g>
<g id="n189" class="r"><circle cx="267" cy="902" r="10.5"/></g>
<g id="n190" class="r"><circle cx="257" cy="942" r="10.5"/></g>
<g id="n191" class="r"><circle cx="237" cy="973" r="10.5"/></g>
<g id="n192" class="r"><circle cx="310" cy="941" r="10.5"/></g>
<g id="n193" class="r"><circle cx="310" cy="987" r="10.5"/></g>
<g id="n194" class="r"><circle cx="270" cy="1007" r="10.5"/></g>
<g id="n195" class="v"><circle cx="308" cy="883" r="10.5"/></g>
<g id="n196" class="b"><circle cx="293" cy="807" r="10.5"/></g>
<g id="n197" class="v"><circle cx="374" cy="712" r="10.5"/></g>
<g id="n198" class="b"><circle cx="408" cy="703" r="10.5"/></g>
<g id="n199" class="b"><circle cx="398" cy="736" r="10.5"/></g>
<g id="n200" class="b"><circle cx="358" cy="738" r="10.5"/></g>
<g id="n201" class="b"><circle cx="334" cy="763" r="10.5"/></g>
<g id="n202" class="b"><circle cx="368" cy="768" r="10.5"/></g>
<g id="n203" class="b"><circle cx="398" cy="768" r="10.5"/></g>
<g id="n204" class="b"><circle cx="337" cy="796" r="10.5"/></g>
<g id="n205" class="b"><circle cx="367" cy="802" r="10.5"/></g>
<g id="n206" class="v"><circle cx="399" cy="803" r="10.5"/></g>
<g id="n207" class="b"><circle cx="341" cy="832" r="10.5"/></g>
<g id="n208" class="b"><circle cx="374" cy="832" r="10.5"/></g>
<g id="n209" class="v"><circle cx="407" cy="838" r="10.5"/></g>
<g id="n210" class="g"><circle cx="381" cy="902" r="10.5"/></g>
<g id="n211" class="r"><circle cx="476" cy="921" r="10.5"/></g>
<g id="n212" class="b"><circle cx="380" cy="978" r="10.5"/></g>
<g id="n213" class="b"><circle cx="361" cy="1016" r="10.5"/></g>
<g id="n214" class="g"><circle cx="408" cy="1036" r="10.5"/></g>
<g id="n215" class="g"><circle cx="320" cy="1060" r="10.5"/></g>
<g id="n216" class="g"><circle cx="240" cy="1087" r="10.5"/></g>
<g id="n217" class="b"><circle cx="156" cy="992" r="10.5"/></g>
<g id="n218" class="g"><circle cx="60" cy="991" r="10.5"/></g>
<g id="n219" class="b"><circle cx="74" cy="1023" r="10.5"/></g>
<g id="n220" class="g"><circle cx="89" cy="1051" r="10.5"/></g>
<g id="n221" class="b"><circle cx="106" cy="1077" r="10.5"/></g>
<g id="n222" class="b"><circle cx="185" cy="1044" r="10.5"/></g>
<g id="n223" class="r"><circle cx="147" cy="1140" r="10.5"/></g>
<g id="n224" class="b"><circle cx="187" cy="1149" r="10.5"/></g>
<g id="n225" class="r"><circle cx="244" cy="1171" r="10.5"/></g>
<g id="n226" class="b"><circle cx="191" cy="1197" r="10.5"/></g>
<g id="n227" class="b"><circle cx="232" cy="1214" r="10.5"/></g>
<g id="n228" class="b"><circle cx="235" cy="1251" r="10.5"/></g>
<g id="n229" class="r"><circle cx="258" cy="1272" r="10.5"/></g>
<g id="n230" class="b"><circle cx="304" cy="1268" r="10.5"/></g>
<g id="n231" class="r"><circle cx="305" cy="1311" r="10.5"/></g>
<g id="n232" class="b"><circle cx="352" cy="1316" r="10.5"/></g>
<g id="n233" class="b"><circle cx="293" cy="1126" r="10.5"/></g>
<g id="n234" class="b"><circle cx="341" cy="1120" r="10.5"/></g>
<g id="n235" class="g"><circle cx="326" cy="1181" r="10.5"/></g>
<g id="n236" class="g"><circle cx="386" cy="1223" r="10.5"/></g>
<g id="n237" class="g"><circle cx="412" cy="1150" r="10.5"/></g>
<g id="n238" class="b"><circle cx="414" cy="1090" r="10.5"/></g>
<g id="n239" class="b"><circle cx="462" cy="1112" r="10.5"/></g>
<g id="n240" class="g"><circle cx="527" cy="1113" r="10.5"/></g>
<g id="n241" class="g"><circle cx="567" cy="1113" r="10.5"/></g>
<g id="n242" class="b"><circle cx="520" cy="1054" r="10.5"/></g>
<g id="n243" class="o"><circle cx="479" cy="990" r="10.5"/></g>
<g id="n244" class="o"><circle cx="522" cy="997" r="10.5"/></g>
<g id="n245" class="o"><circle cx="584" cy="962" r="10.5"/></g>
<g id="n246" class="g"><circle cx="518" cy="1170" r="10.5"/></g>
<g id="n247" class="g"><circle cx="459" cy="1208" r="10.5"/></g>
<g id="n248" class="g"><circle cx="553" cy="1187" r="10.5"/></g>
<g id="n249" class="g"><circle cx="551" cy="1237" r="10.5"/></g>
<g id="n250" class="b"><circle cx="604" cy="1168" r="10.5"/></g>
<g id="n251" class="b"><circle cx="604" cy="1224" r="10.5"/></g>
<g id="n252" class="g"><circle cx="595" cy="1287" r="10.5"/></g>
<g id="n253" class="b"><circle cx="636" cy="1304" r="10.5"/></g>
<g id="n254" class="g"><circle cx="669" cy="1204" r="10.5"/></g>
<g id="n255" class="g"><circle cx="654" cy="1250" r="10.5"/></g>
<g id="n256" class="g"><circle cx="711" cy="1222" r="10.5"/></g>
<g id="n257" class="g"><circle cx="726" cy="1299" r="10.5"/></g>
<g id="n258" class="b"><circle cx="700" cy="1048" r="10.5"/></g>
<g id="n259" class="b"><circle cx="423" cy="1292" r="10.5"/></g>
<g id="n260" class="g"><circle cx="491" cy="1339" r="10.5"/></g>
<g id="n261" class="r"><circle cx="373" cy="1374" r="10.5"/></g>
<g id="n262" class="r"><circle cx="403" cy="1375" r="10.5"/></g>
<g id="n263" class="r"><circle cx="401" cy="1406" r="10.5"/></g>
<g id="n264" class="r"><circle cx="431" cy="1402" r="10.5"/></g>
<g id="n265" class="b"><circle cx="447" cy="1428" r="10.5"/></g>
<g id="n266" class="r"><circle cx="478" cy="1441" r="10.5"/></g>
<g id="n267" class="b"><circle cx="488" cy="1397" r="10.5"/></g>
<g id="n268" class="r"><circle cx="538" cy="1398" r="10.5"/></g>
<g id="n269" class="b"><circle cx="549" cy="1339" r="10.5"/></g>
<g id="n270" class="b"><circle cx="569" cy="1383" r="10.5"/></g>
<g id="n271" class="b"><circle cx="546" cy="1435" r="10.5"/></g>
<g id="n272" class="o"><circle cx="646" cy="1371" r="10.5"/></g>
<g id="n273" class="g"><circle cx="581" cy="1470" r="10.5"/></g>
<g id="n274" class="g"><circle cx="609" cy="1460" r="10.5"/></g>
<g id="n275" class="g"><circle cx="620" cy="1488" r="10.5"/></g>
<g id="n276" class="p"><circle cx="648" cy="1471" r="10.5"/></g>
<g id="n277" class="b"><circle cx="659" cy="1432" r="10.5"/></g>
<g id="n278" class="g"><circle cx="666" cy="1493" r="10.5"/></g>
<g id="n279" class="g"><circle cx="694" cy="1487" r="10.5"/></g>
<g id="n280" class="b"><circle cx="716" cy="1390" r="10.5"/></g>
<g id="n281" class="r"><circle cx="723" cy="1450" r="10.5"/></g>
<g id="n282" class="r"><circle cx="751" cy="1473" r="10.5"/></g>
<g id="n283" class="v"><circle cx="754" cy="1438" r="10.5"/></g>
<g id="n284" class="r"><circle cx="780" cy="1455" r="10.5"/></g>
<g id="n285" class="o"><circle cx="765" cy="1151" r="10.5"/></g>
<g id="n286" class="g"><circle cx="773" cy="1222" r="10.5"/></g>
<g id="n287" class="g"><circle cx="831" cy="1201" r="10.5"/></g>
<g id="n288" class="g"><circle cx="828" cy="1273" r="10.5"/></g>
<g id="n289" class="g"><circle cx="845" cy="1366" r="10.5"/></g>
<g id="n290" class="r"><circle cx="826" cy="1481" r="10.5"/></g>
<g id="n291" class="v"><circle cx="853" cy="1493" r="10.5"/></g>
<g id="n292" class="v"><circle cx="867" cy="1465" r="10.5"/></g>
<g id="n293" class="b"><circle cx="891" cy="1490" r="10.5"/></g>
<g id="n294" class="r"><circle cx="910" cy="1468" r="10.5"/></g>
<g id="n295" class="b"><circle cx="938" cy="1474" r="10.5"/></g>
<g id="n296" class="r"><circle cx="963" cy="1458" r="10.5"/></g>
<g id="n297" class="b"><circle cx="906" cy="1428" r="10.5"/></g>
<g id="n298" class="b"><circle cx="939" cy="1398" r="10.5"/></g>
<g id="n299" class="b"><circle cx="902" cy="1330" r="10.5"/></g>
<g id="n300" class="g"><circle cx="892" cy="1251" r="10.5"/></g>
<g id="n301" class="g"><circle cx="939" cy="1278" r="10.5"/></g>
<g id="n302" class="g"><circle cx="946" cy="1232" r="10.5"/></g>
<g id="n303" class="o"><circle cx="908" cy="1176" r="10.5"/></g>
<g id="n304" class="g"><circle cx="975" cy="1160" r="10.5"/></g>
<g id="n305" class="b"><circle cx="975" cy="1325" r="10.5"/></g>
<g id="n306" class="g"><circle cx="986" cy="1393" r="10.5"/></g>
<g id="n307" class="b"><circle cx="1026" cy="1369" r="10.5"/></g>
<g id="n308" class="g"><circle cx="1028" cy="1237" r="10.5"/></g>
<g id="n309" class="g"><circle cx="1039" cy="1164" r="10.5"/></g>
<g id="n310" class="g"><circle cx="1073" cy="1292" r="10.5"/></g>
<g id="n311" class="b"><circle cx="1092" cy="1361" r="10.5"/></g>
<g id="n312" class="o"><circle cx="1102" cy="1413" r="10.5"/></g>
<g id="n313" class="r"><circle cx="1132" cy="1398" r="10.5"/></g>
<g id="n314" class="v"><circle cx="1154" cy="1379" r="10.5"/></g>
<g id="n315" class="v"><circle cx="1179" cy="1364" r="10.5"/></g>
<g id="n316" class="b"><circle cx="1120" cy="1188" r="10.5"/></g>
<g id="n317" class="b"><circle cx="1100" cy="1127" r="10.5"/></g>
<g id="n318" class="g"><circle cx="1029" cy="1093" r="10.5"/></g>
<g id="n319" class="g"><circle cx="1046" cy="1027" r="10.5"/></g>
<g id="n320" class="g"><circle cx="1149" cy="1086" r="10.5"/></g>
<g id="n321" class="r"><circle cx="1201" cy="1143" r="10.5"/></g>
<g id="n322" class="r"><circle cx="1223" cy="1169" r="10.5"/></g>
<g id="n323" class="b"><circle cx="1213" cy="1209" r="10.5"/></g>
<g id="n324" class="r"><circle cx="1185" cy="1234" r="10.5"/></g>
<g id="n325" class="r"><circle cx="1211" cy="1241" r="10.5"/></g>
<g id="n326" class="r"><circle cx="1176" cy="1266" r="10.5"/></g>
<g id="n327" class="b"><circle cx="1206" cy="1304" r="10.5"/></g>
<g id="n328" class="b"><circle cx="1246" cy="1276" r="10.5"/></g>
<g id="n329" class="r"><circle cx="1263" cy="1252" r="10.5"/></g>
<g id="n330" class="r"><circle cx="1273" cy="1223" r="10.5"/></g>
<g id="n331" class="g"><circle cx="1266" cy="1109" r="10.5"/></g>
<g id="n332" class="o"><circle cx="1180" cy="986" r="10.5"/></g>
<g id="n333" class="g"><circle cx="1289" cy="957" r="10.5"/></g>
<g id="n334" class="v"><circle cx="1315" cy="1252" r="10.5"/></g>
<g id="n335" class="v"><circle cx="1342" cy="1235" r="10.5"/></g>
<g id="n336" class="v"><circle cx="1327" cy="1208" r="10.5"/></g>
<g id="n337" class="v"><circle cx="1365" cy="1210" r="10.5"/></g>
<g id="n338" class="g"><circle cx="1352" cy="1180" r="10.5"/></g>
<g id="n339" class="r"><circle cx="1387" cy="1182" r="10.5"/></g>
<g id="n340" class="v"><circle cx="1375" cy="1151" r="10.5"/></g>
<g id="n341" class="r"><circle cx="1404" cy="1150" r="10.5"/></g>
<g id="n342" class="r"><circle cx="1414" cy="1121" r="10.5"/></g>
<g id="n343" class="v"><circle cx="1357" cy="1096" r="10.5"/></g>
<g id="n344" class="r"><circle cx="1380" cy="1075" r="10.5"/></g>
<g id="n345" class="g"><circle cx="1351" cy="1059" r="10.5"/></g>
<g id="n346" class="g"><circle cx="1401" cy="1056" r="10.5"/></g>
<g id="n347" class="g"><circle cx="1390" cy="1029" r="10.5"/></g>
<g id="n348" class="b"><circle cx="1359" cy="1029" r="10.5"/></g>
<g id="n349" class="g"><circle cx="1381" cy="999" r="10.5"/></g>
<g id="n350" class="r"><circle cx="1447" cy="1028" r="10.5"/></g>
<g id="n351" class="v"><circle cx="1435" cy="999" r="10.5"/></g>
<g id="n352" class="r"><circle cx="1464" cy="989" r="10.5"/></g>
<g id="n353" class="v"><circle cx="1435" cy="966" r="10.5"/></g>
<g id="n354" class="g"><circle cx="1461" cy="952" r="10.5"/></g>
<g id="n355" class="r"><circle cx="1389" cy="914" r="10.5"/></g>
<g id="n356" class="r"><circle cx="1379" cy="939" r="10.5"/></g>
<g id="n357" class="b"><circle cx="1211" cy="909" r="10.5"/></g>
<g id="n358" class="b"><circle cx="1226" cy="857" r="10.5"/></g>
<g id="n359" class="r"><circle cx="1273" cy="847" r="10.5"/></g>
<g id="n360" class="r"><circle cx="1362" cy="867" r="10.5"/></g>
<g id="n361" class="r"><circle cx="1391" cy="859" r="10.5"/></g>
<g id="n362" class="r"><circle cx="1401" cy="827" r="10.5"/></g>
<g id="n363" class="b"><circle cx="1437" cy="858" r="10.5"/></g>
<g id="n364" class="b"><circle cx="1488" cy="864" r="10.5"/></g>
<g id="n365" class="b"><circle cx="1474" cy="888" r="10.5"/></g>
<g id="n366" class="r"><circle cx="1490" cy="835" r="10.5"/></g>
<g id="n367" class="r"><circle cx="1448" cy="795" r="10.5"/></g>
<g id="n368" class="r"><circle cx="1408" cy="760" r="10.5"/></g>
<g id="n369" class="g"><circle cx="1452" cy="747" r="10.5"/></g>
<g id="n370" class="r"><circle cx="1435" cy="722" r="10.5"/></g>
<g id="n371" class="g"><circle cx="1448" cy="691" r="10.5"/></g>
<g id="n372" class="g"><circle cx="1335" cy="795" r="10.5"/></g>
<g id="n373" class="g"><circle cx="1242" cy="771" r="10.5"/></g>
<g id="n374" class="b"><circle cx="1193" cy="805" r="10.5"/></g>
<g id="n375" class="g"><circle cx="1144" cy="745" r="10.5"/></g>
<g id="n376" class="b"><circle cx="1124" cy="816" r="10.5"/></g>
<g id="n377" class="g"><circle cx="1152" cy="868" r="10.5"/></g>
<g id="n378" class="b"><circle cx="1070" cy="842" r="10.5"/></g>
<g id="n379" class="b"><circle cx="1001" cy="823" r="10.5"/></g>
<g id="n380" class="g"><circle cx="973" cy="865" r="10.5"/></g>
<g id="n381" class="b"><circle cx="1000" cy="929" r="10.5"/></g>
<g id="n382" class="g"><circle cx="1063" cy="934" r="10.5"/></g>
<g id="n383" class="b"><circle cx="930" cy="917" r="10.5"/></g>
<g id="n384" class="b"><circle cx="868" cy="813" r="10.5"/></g>
<g id="n385" class="g"><circle cx="1005" cy="759" r="10.5"/></g>
<g id="n386" class="g"><circle cx="949" cy="703" r="10.5"/></g>
<g id="n387" class="o"><circle cx="887" cy="736" r="10.5"/></g>
<g id="n388" class="o"><circle cx="877" cy="891" r="10.5"/></g>
<g id="n389" class="o"><circle cx="808" cy="911" r="10.5"/></g>
<g id="n390" class="o"><circle cx="769" cy="904" r="10.5"/></g>
<g id="n391" class="b"><circle cx="771" cy="863" r="10.5"/></g>
<g id="n392" class="g"><circle cx="721" cy="926" r="10.5"/></g>
<g id="n393" class="b"><circle cx="860" cy="1043" r="10.5"/></g>
<g id="n394" class="r"><circle cx="781" cy="747" r="10.5"/></g>
<g id="n395" class="r"><circle cx="783" cy="698" r="10.5"/></g>
<g id="n396" class="r"><circle cx="783" cy="637" r="10.5"/></g>
<g id="n397" class="r"><circle cx="902" cy="646" r="10.5"/></g>
<g id="n398" class="b"><circle cx="833" cy="658" r="10.5"/></g>
<g id="n399" class="b"><circle cx="871" cy="599" r="10.5"/></g>
<g id="n400" class="v"><circle cx="830" cy="575" r="10.5"/></g>
<g id="n401" class="v"><circle cx="762" cy="595" r="10.5"/></g>
<g id="n402" class="r"><circle cx="712" cy="573" r="10.5"/></g>
<g id="n403" class="g"><circle cx="931" cy="526" r="10.5"/></g>
<g id="n404" class="b"><circle cx="992" cy="546" r="10.5"/></g>
<g id="n405" class="b"><circle cx="1019" cy="491" r="10.5"/></g>
<g id="n406" class="v"><circle cx="1065" cy="524" r="10.5"/></g>
<g id="n407" class="o"><circle cx="1046" cy="632" r="10.5"/></g>
<g id="n408" class="b"><circle cx="1121" cy="500" r="10.5"/></g>
<g id="n409" class="b"><circle cx="1143" cy="531" r="10.5"/></g>
<g id="n410" class="g"><circle cx="1174" cy="539" r="10.5"/></g>
<g id="n411" class="g"><circle cx="1208" cy="543" r="10.5"/></g>
<g id="n412" class="g"><circle cx="1164" cy="567" r="10.5"/></g>
<g id="n413" class="o"><circle cx="1195" cy="577" r="10.5"/></g>
<g id="n414" class="r"><circle cx="1228" cy="565" r="10.5"/></g>
<g id="n415" class="p"><circle cx="1247" cy="535" r="10.5"/></g>
<g id="n416" class="g"><circle cx="1281" cy="566" r="10.5"/></g>
<g id="n417" class="b"><circle cx="1175" cy="650" r="10.5"/></g>
<g id="n418" class="o"><circle cx="1257" cy="662" r="10.5"/></g>
<g id="n419" class="g"><circle cx="1374" cy="648" r="10.5"/></g>
<g id="n420" class="o"><circle cx="1201" cy="432" r="10.5"/></g>
<g id="n421" class="g"><circle cx="1293" cy="461" r="10.5"/></g>
<g id="n422" class="r"><circle cx="1346" cy="436" r="10.5"/></g>
<g id="n423" class="v"><circle cx="1382" cy="448" r="10.5"/></g>
<g id="n424" class="g"><circle cx="1346" cy="472" r="10.5"/></g>
<g id="n425" class="b"><circle cx="1406" cy="499" r="10.5"/></g>
<g id="n426" class="r"><circle cx="1323" cy="520" r="10.5"/></g>
<g id="n427" class="r"><circle cx="1376" cy="516" r="10.5"/></g>
<g id="n428" class="v"><circle cx="1404" cy="545" r="10.5"/></g>
<g id="n429" class="r"><circle cx="1355" cy="558" r="10.5"/></g>
<g id="n430" class="r"><circle cx="1463" cy="497" r="10.5"/></g>
<g id="n431" class="b"><circle cx="1486" cy="520" r="10.5"/></g>
<g id="n432" class="o"><circle cx="1461" cy="538" r="10.5"/></g>
<g id="n433" class="o"><circle cx="1496" cy="551" r="10.5"/></g>
<g id="n434" class="v"><circle cx="1465" cy="570" r="10.5"/></g>
<g id="n435" class="r"><circle cx="1505" cy="579" r="10.5"/></g>
<g id="n436" class="r"><circle cx="1474" cy="598" r="10.5"/></g>
<g id="n437" class="o"><circle cx="1514" cy="607" r="10.5"/></g>
<g id="n438" class="o"><circle cx="1483" cy="627" r="10.5"/></g>
<g id="n439" class="r"><circle cx="1520" cy="637" r="10.5"/></g>
<g id="n440" class="b"><circle cx="1489" cy="657" r="10.5"/></g>
<g id="n441" class="d"><circle cx="1523" cy="668" r="10.5"/></g>
<g id="n442" class="b"><circle cx="1494" cy="688" r="10.5"/></g>
<g id="n443" class="r"><circle cx="1525" cy="702" r="10.5"/></g>
<g id="n444" class="r"><circle cx="1495" cy="724" r="10.5"/></g>
<g id="n445" class="r"><circle cx="1521" cy="738" r="10.5"/></g>
<g id="n446" class="r"><circle cx="1506" cy="765" r="10.5"/></g>
<g id="n447" class="v"><circle cx="1263" cy="262" r="10.5"/></g>
<g id="n448" class="v"><circle cx="1299" cy="264" r="10.5"/></g>
<g id="n449" class="g"><circle cx="1243" cy="295" r="10.5"/></g>
<g id="n450" class="r"><circle cx="1276" cy="288" r="10.5"/></g>
<g id="n451" class="g"><circle cx="1328" cy="285" r="10.5"/></g>
<g id="n452" class="g"><circle cx="1302" cy="304" r="10.5"/></g>
<g id="n453" class="g"><circle cx="1267" cy="320" r="10.5"/></g>
<g id="n454" class="g"><circle cx="1353" cy="310" r="10.5"/></g>
<g id="n455" class="v"><circle cx="1325" cy="326" r="10.5"/></g>
<g id="n456" class="r"><circle cx="1294" cy="340" r="10.5"/></g>
<g id="n457" class="r"><circle cx="1346" cy="348" r="10.5"/></g>
<g id="n458" class="g"><circle cx="1376" cy="343" r="10.5"/></g>
<g id="n459" class="v"><circle cx="1318" cy="365" r="10.5"/></g>
<g id="n460" class="g"><circle cx="1352" cy="379" r="10.5"/></g>
<g id="n461" class="g"><circle cx="1385" cy="378" r="10.5"/></g>
</g>
</svg>
